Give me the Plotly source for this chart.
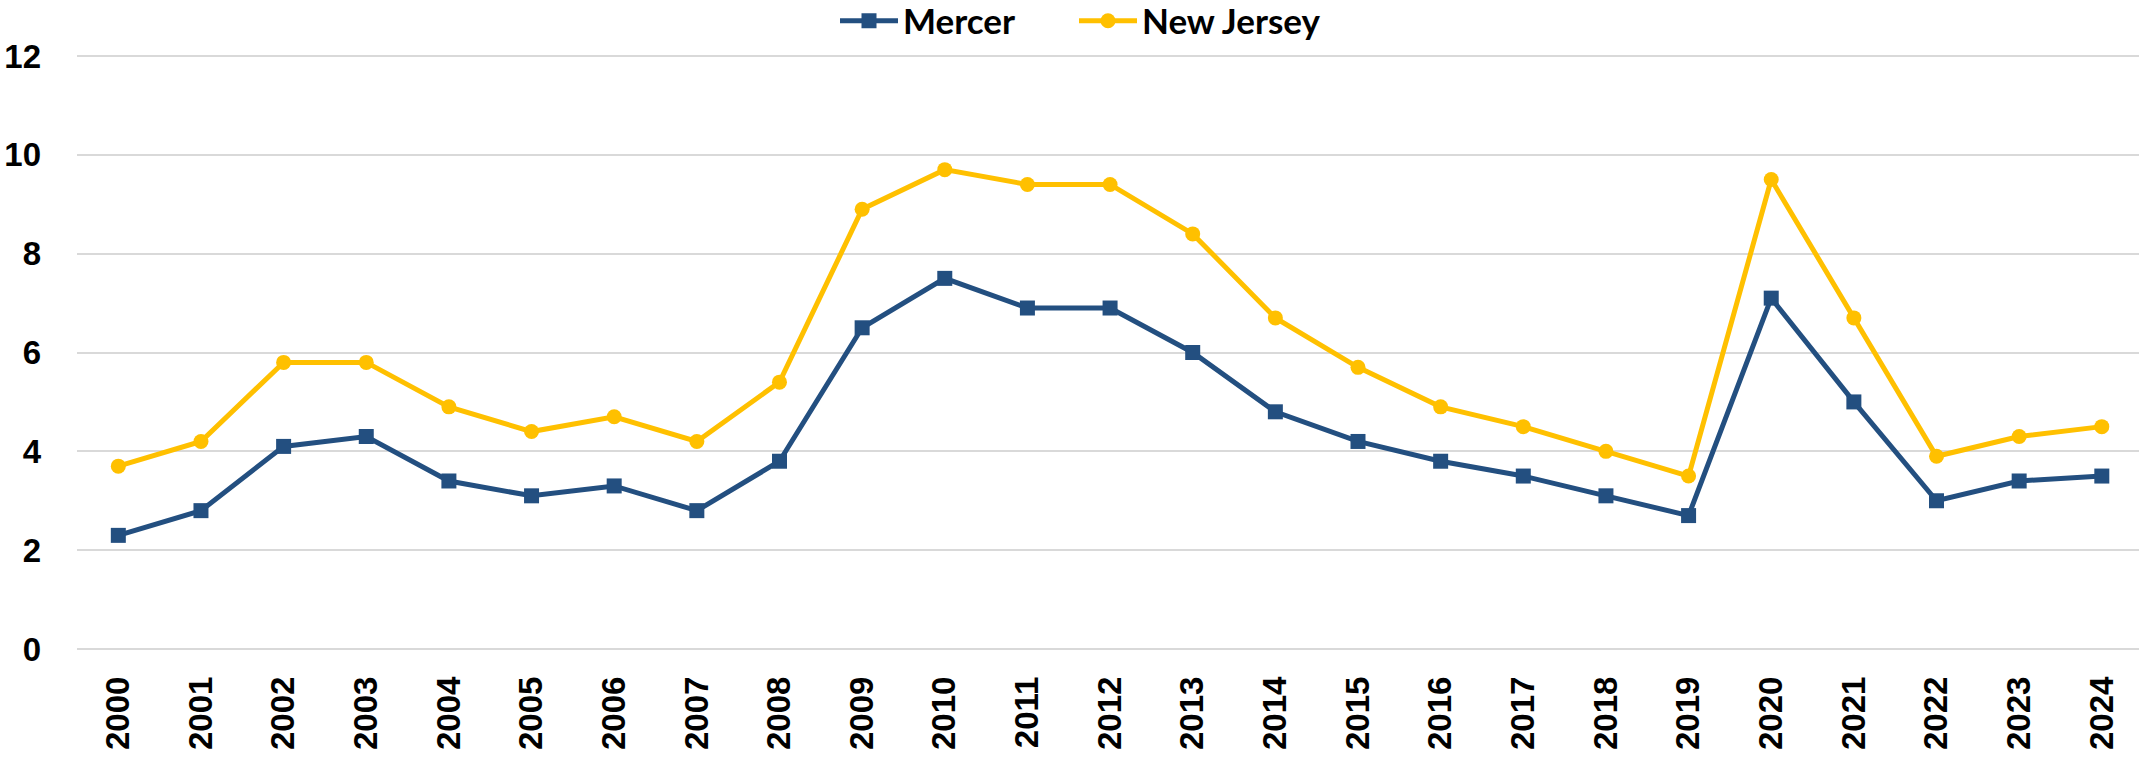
import plotly.graph_objects as go

years = [str(y) for y in range(2000, 2025)]
mercer = [2.3, 2.8, 4.1, 4.3, 3.4, 3.1, 3.3, 2.8, 3.8, 6.5, 7.5, 6.9, 6.9, 6.0, 4.8,
          4.2, 3.8, 3.5, 3.1, 2.7, 7.1, 5.0, 3.0, 3.4, 3.5]
new_jersey = [3.7, 4.2, 5.8, 5.8, 4.9, 4.4, 4.7, 4.2, 5.4, 8.9, 9.7, 9.4, 9.4, 8.4, 6.7,
              5.7, 4.9, 4.5, 4.0, 3.5, 9.5, 6.7, 3.9, 4.3, 4.5]
y_ticks = [0, 2, 4, 6, 8, 10, 12]

W, H = 2139, 757
tick_font = dict(family="Liberation Sans", size=33, color="black", weight="bold")
legend_font = dict(family="Lato", size=35, color="black", weight="bold")

fig = go.Figure()
fig.add_trace(go.Scatter(
    x=years, y=mercer, name="Mercer", mode="lines+markers",
    line=dict(color="#234F80", width=5),
    marker=dict(symbol="square", size=15, color="#234F80"),
    legend="legend",
))
fig.add_trace(go.Scatter(
    x=years, y=new_jersey, name="New Jersey", mode="lines+markers",
    line=dict(color="#FFC000", width=5),
    marker=dict(symbol="circle", size=15, color="#FFC000"),
    legend="legend2",
))

def legend_at(px):
    return dict(
        orientation="h", xref="container", yref="container",
        x=px / W, xanchor="left", y=(H - 21) / H, yanchor="middle",
        font=legend_font, itemwidth=58, bgcolor="rgba(0,0,0,0)",
    )

fig.update_layout(
    width=W, height=H,
    margin=dict(l=77, r=0, t=54, b=106, autoexpand=False),
    plot_bgcolor="white", paper_bgcolor="white",
    showlegend=True,
    legend=legend_at(835),
    legend2=legend_at(1074),
    xaxis=dict(
        type="category", range=[-0.5, 24.45],
        tickangle=-90, tickfont=tick_font,
        showgrid=False, zeroline=False, showline=False, ticks="",
        ticklabelstandoff=18,
    ),
    yaxis=dict(
        range=[-0.04, 12.04], tickvals=y_ticks, tickfont=tick_font,
        showgrid=True, gridcolor="#D9D9D9", gridwidth=2,
        zeroline=False, showline=False, ticks="",
        ticklabelstandoff=35,
    ),
)

fig.write_html("out.html", config={"displayModeBar": False},
               post_script="document.body.style.margin='0';")
